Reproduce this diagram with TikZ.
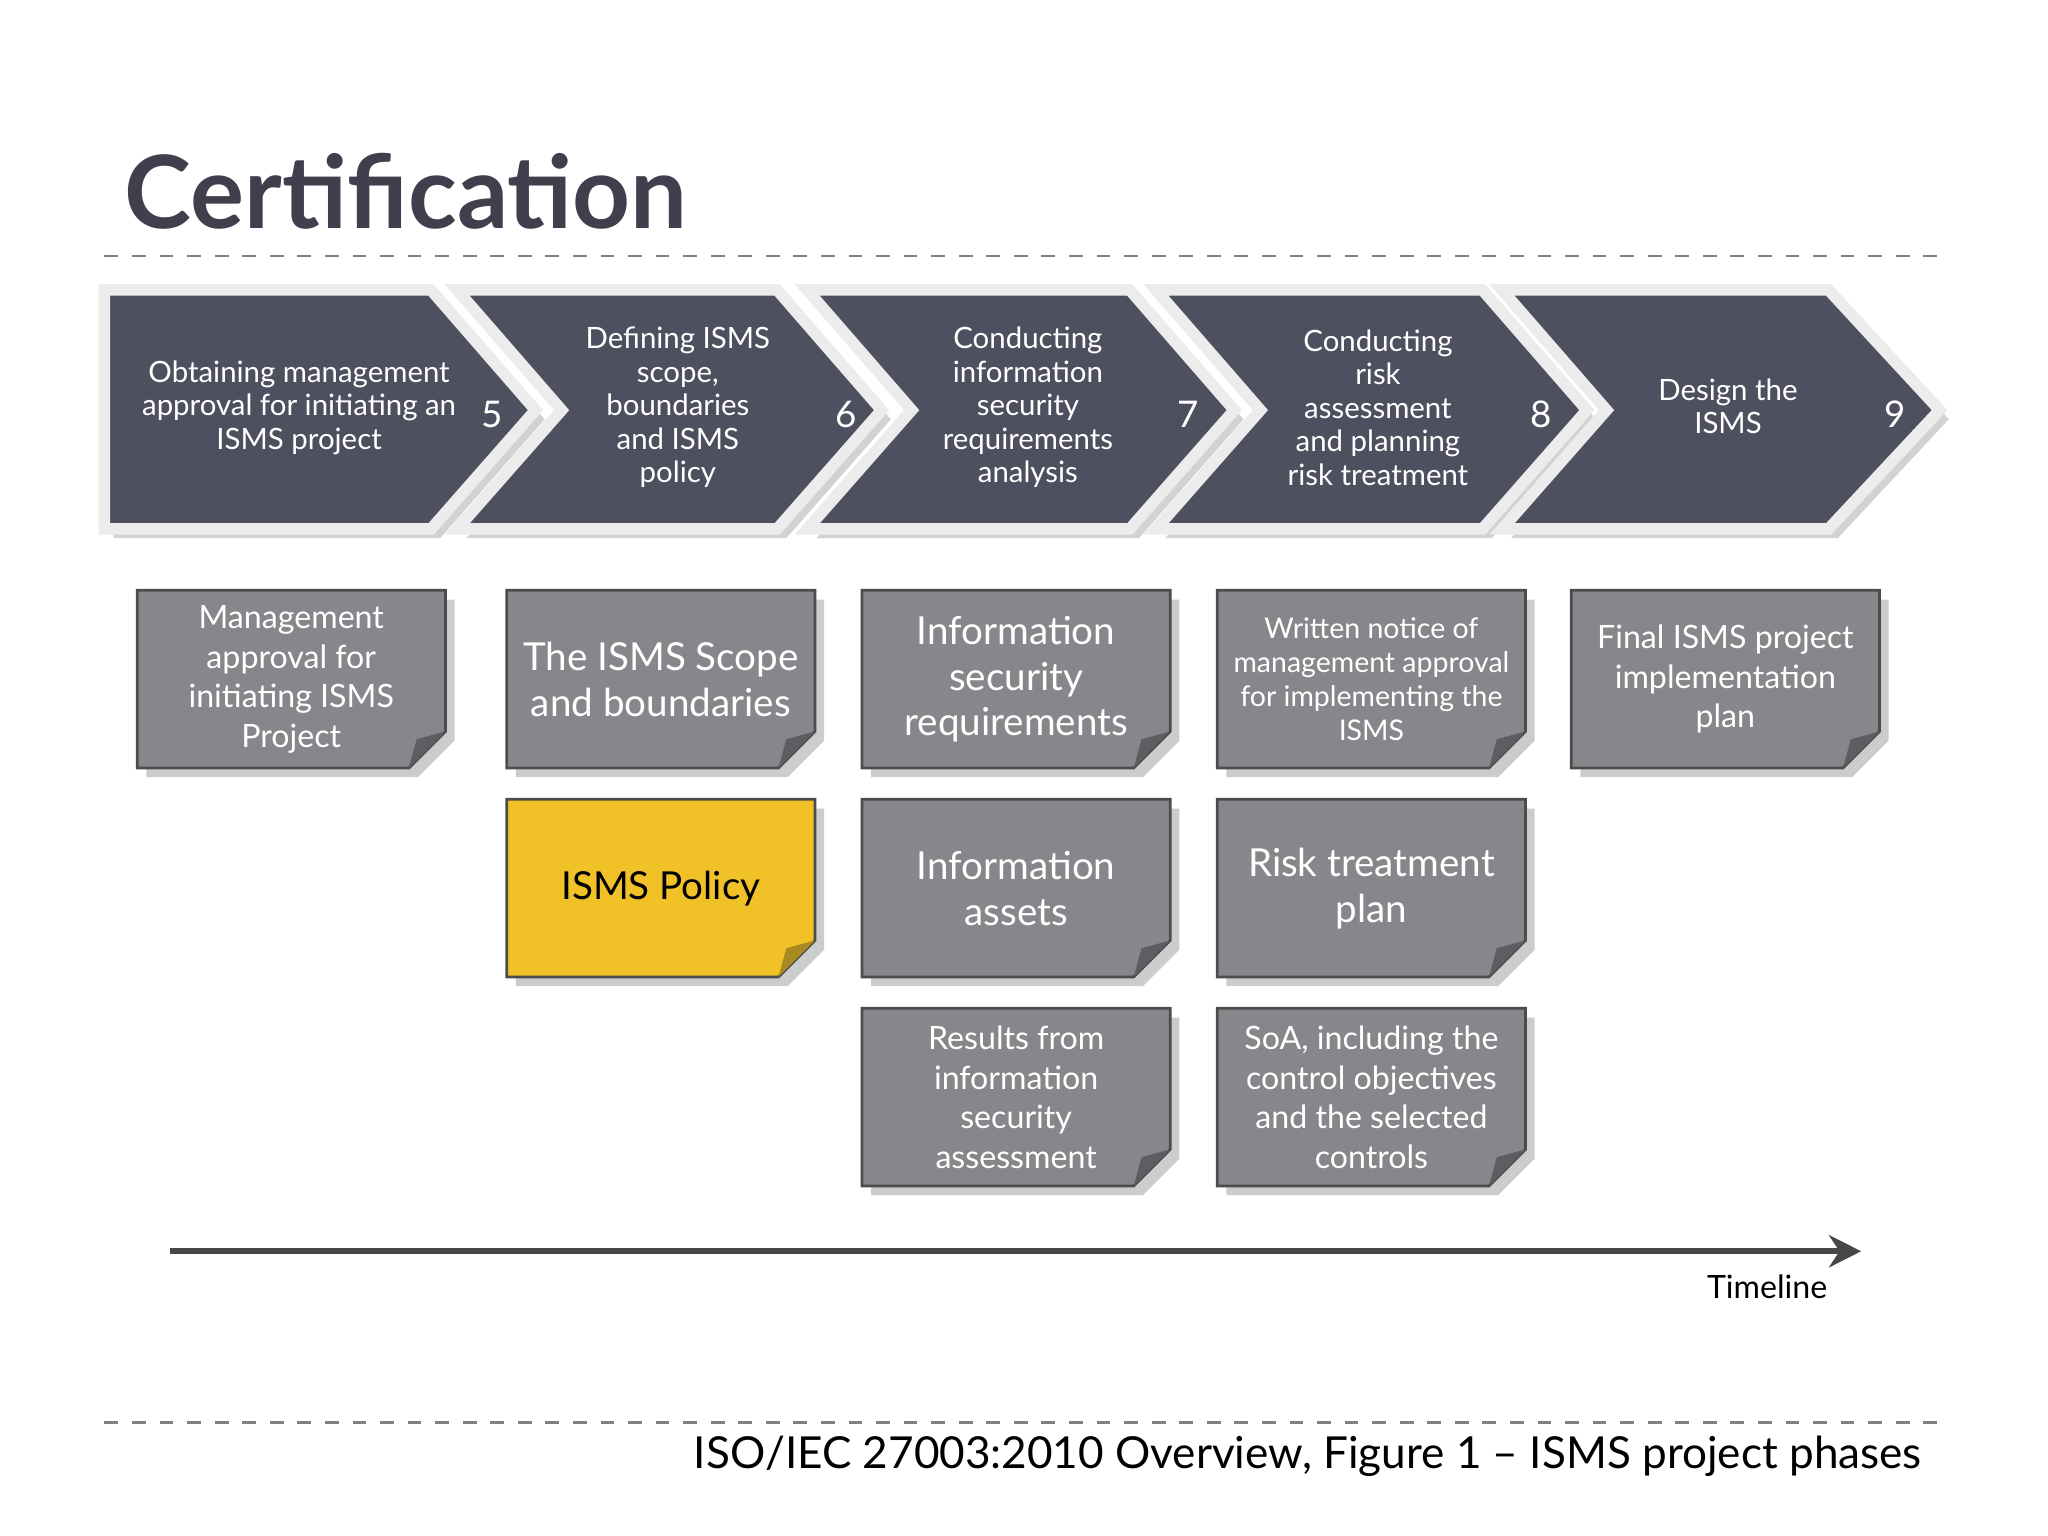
\documentclass[tikz,border=0pt]{standalone}
\usepackage{fontspec}
\setmainfont{Lato}
\usetikzlibrary{shadows,arrows.meta}
\definecolor{slate}{HTML}{4E5060}
\definecolor{notegrey}{HTML}{87878B}
\definecolor{foldgrey}{HTML}{5E5E62}
\definecolor{ylw}{HTML}{F0C228}
\definecolor{foldy}{HTML}{A88A20}
\definecolor{ttl}{HTML}{3F3F4E}
\tikzset{
 chev/.style={fill=slate,draw=white!85!gray,line width=2.5pt,drop shadow={shadow xshift=2pt,shadow yshift=-2pt,opacity=.35}},
 chevtxt/.style={text=white,font=\fontsize{6.4pt}{7.3pt}\selectfont,align=center},
 num/.style={text=white,font=\fontsize{8pt}{9pt}\selectfont},
 notetxt/.style={text=white,align=center},
 notebox/.style={draw=gray!60!black,line width=0.6pt,drop shadow={shadow xshift=2pt,shadow yshift=-2pt,opacity=.4}},
}
\newcommand{\mynote}[7]{% name x y fill fold text font
 \filldraw[notebox,fill=#4] (#2,#3) -- ++(236,0) -- ++(0,108) -- ++(-28,28) -- ++(-208,0) -- cycle;
 \fill[#5] (#2+236,#3+108) -- (#2+208,#3+136) -- (#2+214,#3+114) -- cycle;
 \node[notetxt,font=#7] (#1) at (#2+118,#3+68) {#6};}
\begin{document}
\begin{tikzpicture}[x=0.01cm,y=-0.01cm]
\useasboundingbox (0,0) rectangle (1568,1176);
\fill[white] (0,0) rectangle (1568,1176);
\node[anchor=base west,text=ttl,font=\bfseries\fontsize{22pt}{24pt}\selectfont,inner sep=0] (title) at (95,175) {Certification};
\draw[gray,dashed,line width=0.5pt] (80,196) -- (1490,196);
\draw[gray,dashed,line width=0.5pt] (80,1089) -- (1490,1089);
% chevrons
\filldraw[chev] (80,222) -- (330,222) -- (410,314) -- (330,405) -- (80,405) -- cycle;
\filldraw[chev] (350,222) -- (595,222) -- (675,314) -- (595,405) -- (350,405) -- (430,314) -- cycle;
\filldraw[chev] (618,222) -- (865,222) -- (945,314) -- (865,405) -- (618,405) -- (698,314) -- cycle;
\filldraw[chev] (885,222) -- (1135,222) -- (1215,314) -- (1135,405) -- (885,405) -- (965,314) -- cycle;
\filldraw[chev] (1150,222) -- (1400,222) -- (1485,314) -- (1400,405) -- (1150,405) -- (1230,314) -- cycle;
\node[chevtxt] (c1) at (229,312) {Obtaining management\\approval for initiating an\\ISMS project};
\node[chevtxt] (c2) at (519,312) {Defining ISMS\\scope,\\boundaries\\and ISMS\\policy};
\node[chevtxt] (c3) at (787,312) {Conducting\\information\\security\\requirements\\analysis};
\node[chevtxt] (c4) at (1055,312) {Conducting\\risk\\assessment\\and planning\\risk treatment};
\node[chevtxt] (c5) at (1323,311) {Design the\\ISMS};
\node[num] (n5) at (377,317) {5};
\node[num] (n6) at (648,317) {6};
\node[num] (n7) at (910,317) {7};
\node[num] (n8) at (1180,317) {8};
\node[num] (n9) at (1451,317) {9};
% notes
\def\fa{\fontsize{7pt}{8.6pt}\selectfont}
\def\fb{\fontsize{8.4pt}{10pt}\selectfont}
\def\fc{\fontsize{6.2pt}{7.4pt}\selectfont}
\mynote{m1}{105}{452}{notegrey}{foldgrey}{Management\\approval for\\initiating ISMS\\Project}{\fa}
\mynote{m2}{388}{452}{notegrey}{foldgrey}{The ISMS Scope\\and boundaries}{\fb}
\mynote{m3}{660}{452}{notegrey}{foldgrey}{Information\\security\\requirements}{\fb}
\mynote{m4}{932}{452}{notegrey}{foldgrey}{Written notice of\\management approval\\for implementing the\\ISMS}{\fc}
\mynote{m5}{1203}{452}{notegrey}{foldgrey}{Final ISMS project\\implementation\\plan}{\fa}
\mynote{m6}{388}{612}{ylw}{foldy}{\textcolor{black}{ISMS Policy}}{\fb}
\mynote{m7}{660}{612}{notegrey}{foldgrey}{Information\\assets}{\fb}
\mynote{m8}{932}{612}{notegrey}{foldgrey}{Risk treatment\\plan}{\fb}
\mynote{m9}{660}{772}{notegrey}{foldgrey}{Results from\\information\\security\\assessment}{\fa}
\mynote{m10}{932}{772}{notegrey}{foldgrey}{SoA, including the\\control objectives\\and the selected\\controls}{\fa}
% timeline
\coordinate (t0) at (130,958);
\coordinate (t1) at (1425,958);
\draw[line width=1.3pt,draw=black!72,-{Stealth[length=7pt,width=7pt]}] (t0) -- (t1);
\node[font=\fontsize{7pt}{8pt}\selectfont] (tl) at (1353,985) {Timeline};
\node[anchor=base east,font=\fontsize{9.6pt}{11pt}\selectfont,inner sep=0] (cap) at (1472,1124) {ISO/IEC 27003:2010 Overview, Figure 1 – ISMS project phases};
\end{tikzpicture}
\end{document}
